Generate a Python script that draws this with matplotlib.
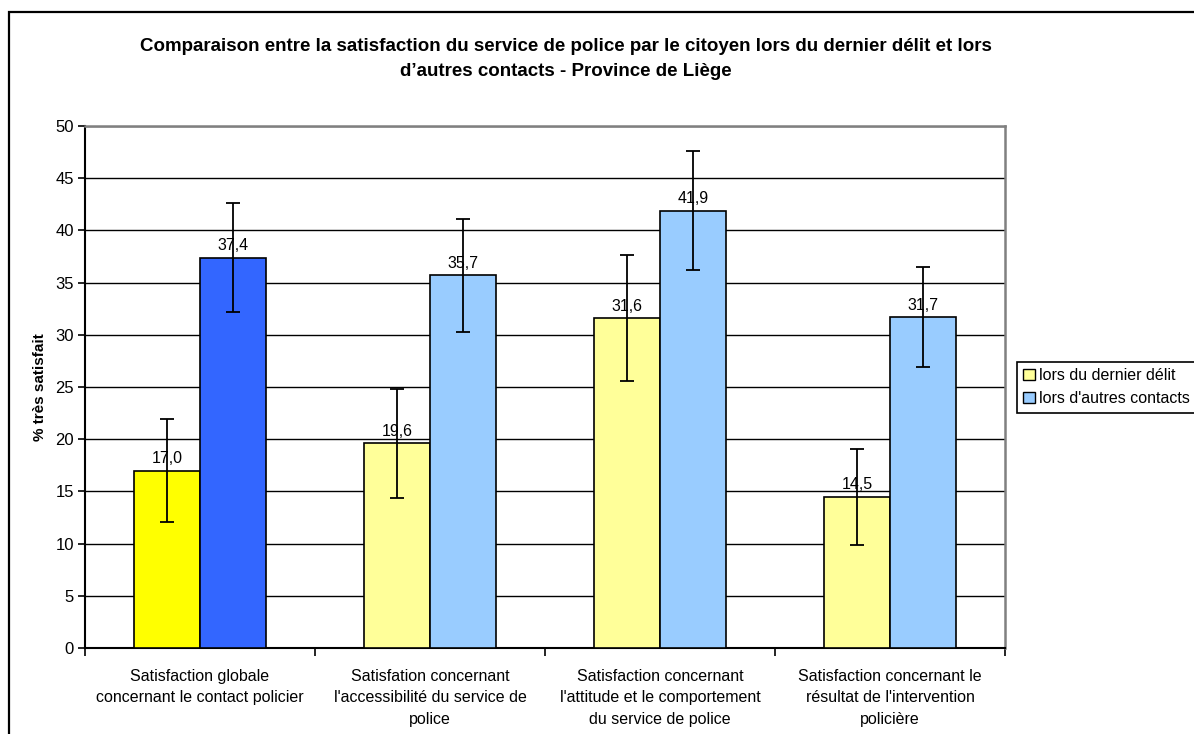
import matplotlib
matplotlib.use("Agg")
import matplotlib.pyplot as plt
import matplotlib.patches as mpatches
import numpy as np

plt.rcParams["font.family"] = ["Liberation Sans", "DejaVu Sans"]

categories = [
    "Satisfaction globale\nconcernant le contact policier",
    "Satisfation concernant\nl'accessibilité du service de\npolice",
    "Satisfaction concernant\nl'attitude et le comportement\ndu service de police",
    "Satisfaction concernant le\nrésultat de l'intervention\npolicière",
]
series_names = ["lors du dernier délit", "lors d'autres contacts"]
dernier_delit = [17.0, 19.6, 31.6, 14.5]
autres_contacts = [37.4, 35.7, 41.9, 31.7]
err_dernier = [4.9, 5.2, 6.0, 4.6]
err_autres = [5.2, 5.4, 5.7, 4.8]

title = ("Comparaison entre la satisfaction du service de police par le citoyen lors du dernier délit et lors\n"
         "d\u2019autres contacts - Province de Liège")
ylabel = "% très satisfait"

# first group is highlighted with saturated colours
colors_dernier = ["#FFFF00", "#FFFF99", "#FFFF99", "#FFFF99"]
colors_autres = ["#3366FF", "#99CCFF", "#99CCFF", "#99CCFF"]

fig = plt.figure(figsize=(11.94, 7.34), dpi=100)
ax = fig.add_axes([85 / 1194, 1 - 648 / 734, 920 / 1194, 522 / 734])

x = np.arange(len(categories))
w = 0.287
ax.bar(x - w / 2, dernier_delit, w, color=colors_dernier, edgecolor="black", linewidth=1.2, zorder=3)
ax.bar(x + w / 2, autres_contacts, w, color=colors_autres, edgecolor="black", linewidth=1.2, zorder=3)
ax.errorbar(x - w / 2, dernier_delit, yerr=err_dernier, fmt="none", ecolor="black",
            elinewidth=1.3, capsize=5, capthick=1.3, zorder=4)
ax.errorbar(x + w / 2, autres_contacts, yerr=err_autres, fmt="none", ecolor="black",
            elinewidth=1.3, capsize=5, capthick=1.3, zorder=4)

for xs, vals in [(x - w / 2, dernier_delit), (x + w / 2, autres_contacts)]:
    for xi, v in zip(xs, vals):
        ax.annotate(f"{v:.1f}".replace(".", ","), (xi, v), xytext=(0, 3),
                    textcoords="offset points", ha="center", va="bottom", fontsize=11.5, zorder=5)

ax.set_ylim(0, 50)
ax.set_xlim(-0.5, len(categories) - 0.5)
ax.set_yticks(np.arange(0, 51, 5))
ax.yaxis.grid(True, color="black", linewidth=1)
ax.set_axisbelow(True)
ax.tick_params(axis="y", labelsize=12, length=5, width=1.2, direction="out", pad=3)

ax.set_xticks(x)
ax.set_xticklabels(categories, fontsize=11.5, linespacing=1.55)
ax.set_xticks(np.arange(-0.5, len(categories)), minor=True)
ax.tick_params(axis="x", which="major", length=0, pad=15)
ax.tick_params(axis="x", which="minor", length=6, width=1.2, direction="out")

ax.set_ylabel(ylabel, fontsize=11, fontweight="bold", labelpad=6)

for side in ["left", "bottom"]:
    ax.spines[side].set_color("black")
    ax.spines[side].set_linewidth(1.5)
for side in ["top", "right"]:
    ax.spines[side].set_color("#808080")
    ax.spines[side].set_linewidth(1.8)

fig.text(566 / 1194, 1 - 59 / 734, title, ha="center", va="center", fontsize=13.5,
         fontweight="bold", linespacing=1.6)

handles = [mpatches.Patch(facecolor="#FFFF99", edgecolor="black", label=series_names[0]),
           mpatches.Patch(facecolor="#99CCFF", edgecolor="black", label=series_names[1])]
leg = fig.legend(handles=handles, loc="upper left", bbox_to_anchor=(1017 / 1194, 1 - 362 / 734),
                 fontsize=11.5, frameon=True, fancybox=False, edgecolor="black", framealpha=1,
                 handlelength=0.7, handleheight=0.7, handletextpad=0.3, borderpad=0.4,
                 labelspacing=0.5, borderaxespad=0)
leg.get_frame().set_linewidth(1.2)

# outer chart-area frame, clipped by the image on right and bottom
frame = mpatches.Rectangle((9 / 1194, -0.2), 1.5, 1.2 - 12 / 734, transform=fig.transFigure,
                           fill=False, edgecolor="black", linewidth=1.6, zorder=0)
fig.patches.append(frame)

fig.savefig("out.png", dpi=100)
